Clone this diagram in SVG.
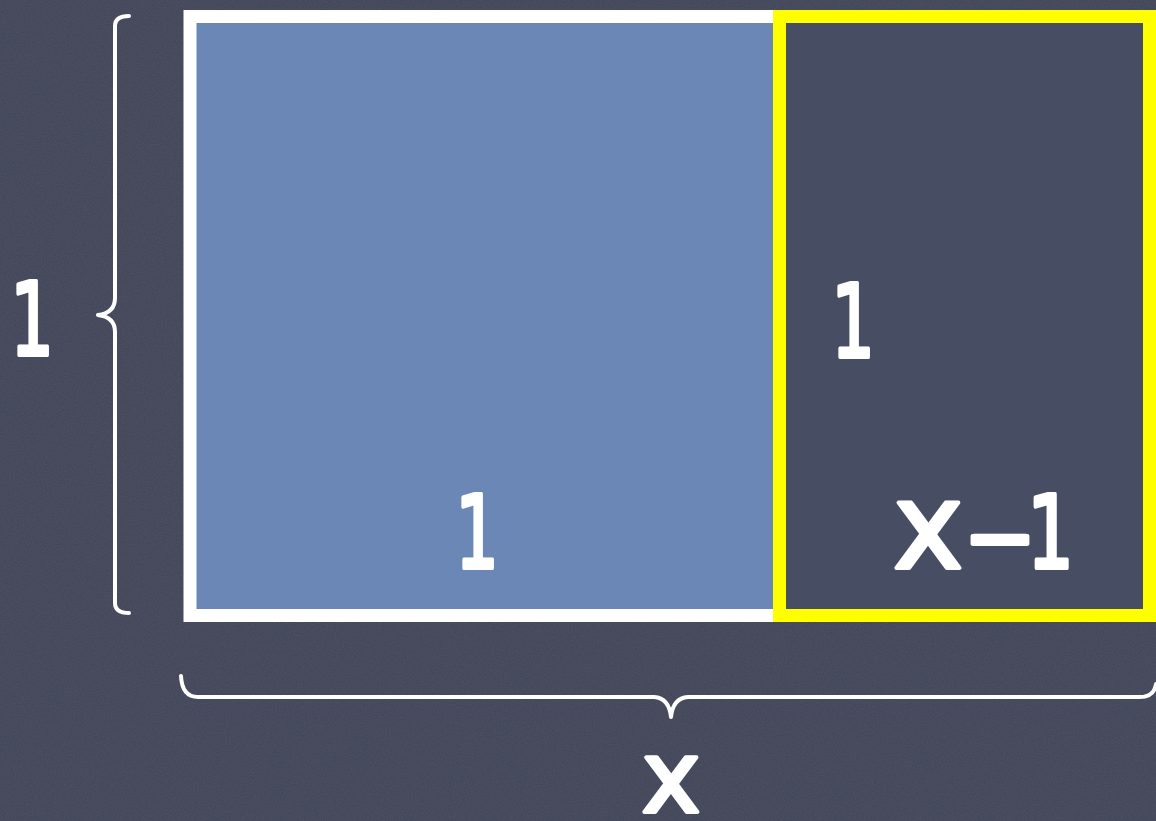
<svg xmlns="http://www.w3.org/2000/svg" width="1156" height="821" viewBox="0 0 1156 821">
<style>
.lbl{font-family:"DejaVu Sans","Liberation Sans",sans-serif;font-weight:normal;fill:#ffffff;stroke:#ffffff;stroke-width:4;stroke-linejoin:round;stroke-linecap:round}
.brace{fill:none;stroke:#ffffff;stroke-width:4;stroke-linecap:round;stroke-linejoin:round}
</style>
<defs>
<filter id="chalk" x="0" y="0" width="100%" height="100%">
<feTurbulence type="fractalNoise" baseFrequency="0.9" numOctaves="2" seed="3" result="n"/>
<feColorMatrix in="n" type="matrix" values="0 0 0 0 1  0 0 0 0 1  0 0 0 0 1  0 0 0 0.03 0" result="w"/>
<feComposite in="w" in2="SourceGraphic" operator="in" result="wm"/>
<feMerge><feMergeNode in="SourceGraphic"/><feMergeNode in="wm"/></feMerge>
</filter>
</defs>
<g id="background">
<rect x="0" y="0" width="1156" height="821" fill="#3f4559" filter="url(#chalk)"/>
</g>
<g id="square">
<rect x="190" y="16.5" width="589.5" height="599" fill="#6b87b6" stroke="#ffffff" stroke-width="13"/>
</g>
<g id="rectangle">
<rect x="779.5" y="16.5" width="370" height="599" fill="#474d62" stroke="#ffff00" stroke-width="13"/>
</g>
<g id="connectors">
<path class="brace" d="M129,16 Q115,16 115,26 L115,298 Q115,313 98,315 Q115,317 115,332 L115,603 Q115,613 129,613"/>
<path class="brace" d="M181,676 Q182,697 198,697 L654,697 Q669,698 671,717 Q673,698 688,697 L1140,697 Q1154,697 1156,684"/>
</g>
<g id="labels">
<text class="lbl" font-size="101" x="32" y="355" text-anchor="middle" transform="translate(32,0) scale(0.68,1) translate(-32,0)">1</text>
<text class="lbl" font-size="101" x="853" y="357" text-anchor="middle" transform="translate(853,0) scale(0.68,1) translate(-853,0)">1</text>
<text class="lbl" font-size="101" x="477" y="568" text-anchor="middle" transform="translate(477,0) scale(0.68,1) translate(-477,0)">1</text>
<text class="lbl" font-size="101" y="568"><tspan x="893" font-size="119">x</tspan><tspan x="965" textLength="70" lengthAdjust="spacingAndGlyphs">-</tspan><tspan x="1027" textLength="47" lengthAdjust="spacingAndGlyphs">1</tspan></text>
<text class="lbl" font-size="100" x="671" y="812" text-anchor="middle">x</text>
</g>
</svg>
